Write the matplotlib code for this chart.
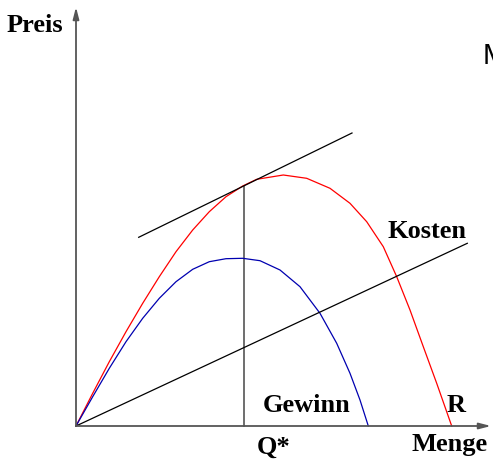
import matplotlib
matplotlib.use("Agg")
import matplotlib.pyplot as plt

# Revenue curve R
r_q = [0, 16.7, 33.3, 50, 66.7, 83.3, 100, 116.7, 133.3, 150, 166.7, 180.7, 207.3,
       230.7, 254, 274, 290.7, 307.3, 320.7, 334, 347.3, 360.7, 375.7]
r_v = [0, 32.7, 64.3, 94.3, 122.7, 149.3, 174.3, 196, 214.3, 229.3, 240, 246.7, 251,
       247.7, 237.7, 222.7, 204.3, 179.3, 149.3, 116, 79.3, 42.7, 0]

# Profit curve (Gewinn)
g_q = [0, 16.7, 33.3, 50, 66.7, 83.3, 100, 116.7, 133.3, 150, 166.7, 184, 204, 224,
       244, 260.7, 274, 284, 292.3]
g_v = [0, 29.3, 57.7, 84.3, 107.7, 127.7, 144.3, 156.7, 164.3, 167.3, 167.7, 165.3, 156,
       139.3, 112.7, 82.7, 52.7, 26, 0]

# Cost line (Kosten)
k_q = [0, 391.3]
k_v = [0, 182.7]

# Tangent line
t_q = [62.7, 276]
t_v = [188.7, 293]

# Optimal quantity
q_star = 167.5
r_at_q_star = 240

fig = plt.figure(figsize=(4.93, 4.59), dpi=100)
ax = fig.add_axes([0, 0, 1, 1])
ax.set_xlim(-76, 417)
ax.set_ylim(-33, 426)
ax.axis('off')

axis_col = '#555555'
# axes with arrows
ax.annotate('', xy=(415, 0), xytext=(0, 0),
            arrowprops=dict(arrowstyle='-|>,head_length=0.7,head_width=0.18', color=axis_col, lw=1.3,
                            shrinkA=0, shrinkB=0))
ax.annotate('', xy=(0, 419), xytext=(0, 0),
            arrowprops=dict(arrowstyle='-|>,head_length=0.7,head_width=0.18', color=axis_col, lw=1.3,
                            shrinkA=0, shrinkB=0))

ax.plot([q_star, q_star], [0, r_at_q_star], color=axis_col, lw=1.2)
ax.plot(r_q, r_v, color='#ff0000', lw=0.9)
ax.plot(g_q, g_v, color='#0000b0', lw=0.9)
ax.plot(k_q, k_v, color='black', lw=0.9)
ax.plot(t_q, t_v, color='black', lw=0.9)

ff = 'Liberation Serif'
kw = dict(family=ff, fontweight='bold', fontsize=19, ha='center', va='center')
ax.text(-41, 401, 'Preis', **kw)
ax.text(351, 195, 'Kosten', **kw)
ax.text(231, 20, 'Gewinn', **kw)
ax.text(380.5, 21, 'R', **kw)
ax.text(198, -21, 'Q*', **kw)
ax.text(374, -18, 'Menge', **kw)
ax.text(407, 370, 'M', family='Liberation Sans', fontsize=21, ha='left', va='center')

fig.savefig('out.png', dpi=100)
